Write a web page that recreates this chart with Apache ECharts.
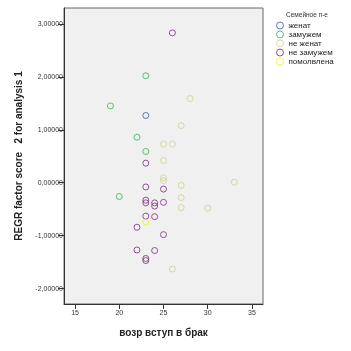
<!DOCTYPE html>
<html>
<head>
<meta charset="utf-8">
<script src="https://cdn.jsdelivr.net/npm/echarts@6/dist/echarts.min.js"></script>
<style>
  html, body { margin: 0; padding: 0; background: #fff; }
  #main { width: 351px; height: 351px; }
</style>
</head>
<body>
<div id="main"></div>
<script>
// данные: [возр вступ в брак, REGR factor score 2]
var zhenat = [[23, 1.27]];
var zamuzhem = [[23, 2.02], [19, 1.45], [22, 0.86], [23, 0.59], [20, -0.26]];
var neZhenat = [[28, 1.59], [27, 1.08], [25, 0.73], [26, 0.73], [25, 0.42], [25, 0.095],
  [25, 0.04], [27, -0.05], [33, 0.01], [27, -0.28], [27, -0.47], [30, -0.48], [26, -1.63]];
var neZamuzhem = [[26, 2.83], [23, 0.37], [23, -0.08], [25, -0.12], [23, -0.33], [23, -0.38],
  [24, -0.38], [24, -0.44], [25, -0.37], [23, -0.63], [24, -0.64], [22, -0.84], [25, -0.98],
  [22, -1.27], [24, -1.28], [23, -1.43], [23, -1.47]];
var pomolvlena = [[23, -0.74]];

var groupNames = ['женат', 'замужем', 'не женат', 'не замужем', 'помолвлена'];
var groupColors = ['#3E58AC', '#2EB848', '#D3CE97', '#7C2B83', '#EBF426'];
var groupData = [zhenat, zamuzhem, neZhenat, neZamuzhem, pomolvlena];

var xTicks = [15, 20, 25, 30, 35];
var yTicks = [-2, -1, 0, 1, 2, 3];

var font = 'Arial, "Liberation Sans", sans-serif';

var myChart = echarts.init(document.getElementById('main'));

var series = groupNames.map(function (name, i) {
  return {
    name: name,
    type: 'scatter',
    data: groupData[i],
    symbol: 'circle',
    symbolSize: 6,
    itemStyle: {
      color: 'rgba(0,0,0,0)',
      borderColor: groupColors[i],
      borderWidth: 1
    }
  };
});

var option = {
  animation: false,
  backgroundColor: '#fff',
  title: {
    text: 'Семейное п-е',
    left: 286,
    top: 12,
    padding: 0,
    textStyle: { fontFamily: font, fontSize: 6.5, fontWeight: 'normal', color: '#333' }
  },
  legend: {
    orient: 'vertical',
    left: 276,
    top: 21,
    padding: 0,
    itemWidth: 7,
    itemHeight: 7,
    itemGap: 0,
    itemStyle: { borderWidth: 1 },
    textStyle: { fontFamily: font, fontSize: 8, lineHeight: 9, color: '#222' },
    data: groupNames
  },
  grid: {
    left: 64,
    right: 88,
    top: 8,
    bottom: 47,
    show: true,
    backgroundColor: '#f0f0f0',
    borderColor: '#666',
    borderWidth: 1
  },
  xAxis: {
    type: 'value',
    min: 13.75,
    max: 36.25,
    name: 'возр вступ в брак',
    nameLocation: 'middle',
    nameGap: 24,
    nameTextStyle: { fontFamily: font, fontSize: 10, fontWeight: 'bold', color: '#222' },
    axisLine: { show: true, onZero: false, lineStyle: { color: '#333', width: 1 } },
    axisTick: { show: true, length: 5, customValues: xTicks, lineStyle: { color: '#333' } },
    axisLabel: { customValues: xTicks, fontFamily: font, fontSize: 7, color: '#333', margin: 6 },
    splitLine: { show: false }
  },
  yAxis: {
    type: 'value',
    min: -2.29,
    max: 3.3,
    name: 'REGR factor score   2 for analysis 1',
    nameLocation: 'middle',
    nameGap: 36,
    nameTextStyle: { fontFamily: font, fontSize: 10, fontWeight: 'bold', color: '#222' },
    axisLine: { show: true, onZero: false, lineStyle: { color: '#333', width: 1 } },
    axisTick: { show: true, length: 6, customValues: yTicks, lineStyle: { color: '#333' } },
    axisLabel: {
      customValues: yTicks,
      fontFamily: font,
      fontSize: 7,
      color: '#333',
      margin: 1,
      formatter: function (v) { return v.toFixed(5).replace('.', ','); }
    },
    splitLine: { show: false }
  },
  series: series
};

myChart.setOption(option);
</script>
</body>
</html>
